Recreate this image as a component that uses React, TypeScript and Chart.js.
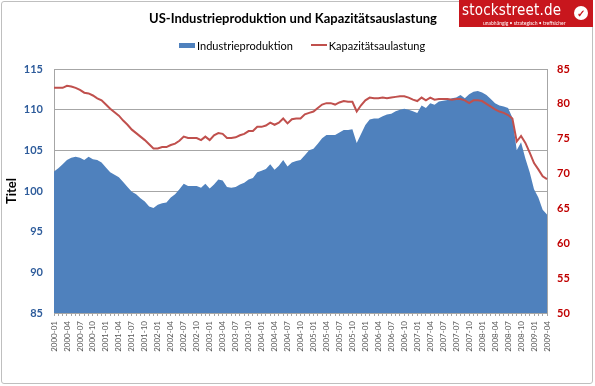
import React, { useEffect, useRef } from 'react';
import { Chart, registerables } from 'chart.js';

Chart.register(...registerables);

const tickLabels = [
  '2000-01', '2000-04', '2000-07', '2000-10',
  '2001-01', '2001-04', '2001-07', '2001-10',
  '2002-01', '2002-04', '2002-07', '2002-10',
  '2003-01', '2003-04', '2003-07', '2003-10',
  '2004-01', '2004-04', '2004-07', '2004-10',
  '2005-01', '2005-04', '2005-07', '2005-10',
  '2006-01', '2006-04', '2006-07', '2006-10',
  '2007-01', '2007-04', '2007-07', '2007-07', '2007-10',
  '2008-01', '2008-04', '2008-07', '2008-10',
  '2009-01', '2009-04',
];

const industrieproduktion = [
  102.4, 102.8, 103.3, 103.8, 104.1, 104.2, 104.1, 103.8, 104.2, 103.9,
  103.8, 103.5, 102.9, 102.3, 102.0, 101.7, 101.1, 100.5, 99.9, 99.6,
  99.1, 98.7, 98.1, 97.9, 98.3, 98.5, 98.6, 99.2, 99.6, 100.2,
  100.9, 100.6, 100.6, 100.6, 100.4, 100.9, 100.3, 100.8, 101.4, 101.3,
  100.5, 100.4, 100.5, 100.8, 101.0, 101.4, 101.6, 102.3, 102.5, 102.7,
  103.3, 102.6, 103.1, 103.8, 103.0, 103.5, 103.7, 103.8, 104.4, 105.0,
  105.2, 105.8, 106.5, 106.9, 106.9, 106.9, 107.2, 107.5, 107.5, 107.6,
  105.9, 107.0, 108.1, 108.8, 108.9, 108.9, 109.2, 109.4, 109.5, 109.8,
  110.0, 110.1, 110.0, 109.8, 109.6, 110.5, 110.2, 110.8, 110.6, 111.0,
  111.1, 111.2, 111.4, 111.5, 111.8, 111.4, 111.9, 112.2, 112.3, 112.1,
  111.8, 111.3, 110.8, 110.5, 110.4, 110.2, 109.0, 105.0, 106.0, 104.0,
  102.3, 100.2, 99.2, 97.7, 97.1,
];

const kapazitaetsauslastung = [
  82.3, 82.3, 82.3, 82.6, 82.5, 82.3, 82.0, 81.6, 81.5, 81.2,
  80.8, 80.5, 79.9, 79.3, 78.8, 78.3, 77.6, 77.0, 76.3, 75.8,
  75.3, 74.8, 74.2, 73.6, 73.6, 73.8, 73.8, 74.1, 74.3, 74.7,
  75.3, 75.1, 75.1, 75.1, 74.8, 75.3, 74.8, 75.5, 75.8, 75.7,
  75.1, 75.1, 75.2, 75.5, 75.7, 76.1, 76.1, 76.7, 76.7, 76.9,
  77.3, 77.0, 77.3, 77.9, 77.2, 77.8, 77.9, 77.9, 78.5, 78.7,
  78.9, 79.4, 79.9, 80.1, 80.1, 79.9, 80.2, 80.4, 80.3, 80.3,
  78.9, 79.8, 80.5, 80.9, 80.8, 80.8, 80.9, 80.8, 80.9, 81.0,
  81.1, 81.1, 80.9, 80.6, 80.4, 80.9, 80.5, 80.9, 80.6, 80.7,
  80.7, 80.7, 80.6, 80.7, 80.7, 80.5, 80.1, 80.5, 80.5, 80.4,
  80.0, 79.6, 79.2, 78.9, 78.7, 78.4, 77.9, 74.6, 75.4, 74.4,
  73.0, 71.5, 70.6, 69.6, 69.2,
];

const W = 595;
const H = 386;
const FONT = 'Lato, "Open Sans", sans-serif';
const BLUE = '#4F81BD';
const RED = '#C0504D';
const GRID = '#a6a6a6';

export default function App() {
  const canvasRef = useRef<HTMLCanvasElement | null>(null);

  useEffect(() => {
    const canvas = canvasRef.current;
    if (!canvas) return;
    const labels = industrieproduktion.map((_, i) => (i % 3 === 0 ? tickLabels[i / 3] : ''));
    const chart = new Chart(canvas, {
      type: 'line',
      data: {
        labels,
        datasets: [
          {
            label: 'Kapazitätsaulastung',
            data: kapazitaetsauslastung,
            yAxisID: 'y2',
            borderColor: RED,
            backgroundColor: RED,
            borderWidth: 2,
            pointRadius: 0,
            tension: 0,
            fill: false,
            order: 0,
          },
          {
            label: 'Industrieproduktion',
            data: industrieproduktion,
            yAxisID: 'y',
            borderColor: BLUE,
            backgroundColor: BLUE,
            borderWidth: 0,
            pointRadius: 0,
            tension: 0,
            fill: 'start',
            order: 1,
          },
        ],
      },
      options: {
        animation: false,
        responsive: false,
        maintainAspectRatio: false,
        layout: { padding: { top: 69, left: 0, right: 0, bottom: 0 } },
        plugins: {
          legend: { display: false },
          title: { display: false },
          tooltip: { enabled: false },
        },
        scales: {
          x: {
            type: 'category',
            offset: false,
            grid: {
              display: true,
              drawOnChartArea: false,
              drawTicks: true,
              tickLength: 3,
              color: GRID,
            },
            border: { display: true, color: GRID },
            ticks: {
              autoSkip: false,
              maxRotation: 90,
              minRotation: 90,
              padding: 5,
              color: '#595959',
              font: { family: FONT, size: 8 },
              callback: (_v: any, i: number) => (i % 3 === 0 ? tickLabels[i / 3] : ''),
            },
            afterFit: (scale: any) => {
              scale.height = 73;
            },
          },
          y: {
            position: 'left',
            min: 85,
            max: 115,
            ticks: {
              stepSize: 5,
              padding: 11,
              color: '#2E5C9B',
              font: { family: FONT, size: 11, weight: 'bold' },
            },
            grid: { color: GRID, drawTicks: false },
            border: { display: true, color: GRID },
            title: {
              display: true,
              text: 'Titel',
              color: '#000000',
              font: { family: FONT, size: 13, weight: 'bold' },
              padding: { top: 4, bottom: 0 },
            },
            afterFit: (scale: any) => {
              scale.width = 54;
            },
          },
          y2: {
            position: 'right',
            min: 50,
            max: 85,
            ticks: {
              stepSize: 5,
              padding: 10,
              color: '#C00000',
              font: { family: FONT, size: 11, weight: 'bold' },
            },
            grid: { drawOnChartArea: false, drawTicks: false },
            border: { display: true, color: GRID },
            afterFit: (scale: any) => {
              scale.width = 48;
            },
          },
        },
      },
    });
    return () => chart.destroy();
  }, []);

  return (
    <div style={{ position: 'fixed', left: 0, top: 0, width: W, height: H, background: '#ffffff', fontFamily: FONT }}>
      <canvas ref={canvasRef} width={W} height={H} style={{ position: 'absolute', left: 0, top: 0, width: W, height: H }} />
      <div style={{ position: 'absolute', left: 1, top: 1, width: 590, height: 381, border: '1px solid #bfbfbf', borderRadius: 3, pointerEvents: 'none' }} />
      <div style={{ position: 'absolute', left: 0, top: 10, width: 586, textAlign: 'center', fontWeight: 'bold', fontSize: 13, color: '#000', whiteSpace: 'nowrap' }}>
        US-Industrieproduktion und Kapazitätsauslastung
      </div>
      <div style={{ position: 'absolute', left: 179, top: 38, height: 14, display: 'flex', alignItems: 'center', fontSize: 11, color: '#000', whiteSpace: 'nowrap' }}>
        <span style={{ display: 'inline-block', width: 16, height: 5, background: BLUE, marginRight: 2 }} />
        <span>Industrieproduktion</span>
        <span style={{ display: 'inline-block', width: 16, height: 2, background: RED, marginLeft: 18, marginRight: 2 }} />
        <span>Kapazitätsaulastung</span>
      </div>
      <div style={{ position: 'absolute', left: 459, top: 0, width: 134, height: 27, background: '#C8161D', color: '#fff', overflow: 'hidden' }}>
        <div style={{ position: 'absolute', left: 3, top: 0, fontSize: 15, lineHeight: '20px', fontFamily: '"DejaVu Sans Condensed", "DejaVu Sans", sans-serif', letterSpacing: 0.2, whiteSpace: 'nowrap' }}>stockstreet.de</div>
        <div style={{ position: 'absolute', left: 115, top: 6, width: 14, height: 14, borderRadius: 7, background: '#fff', color: '#C8161D', fontSize: 10, lineHeight: '14px', textAlign: 'center', fontWeight: 'bold' }}>✓</div>
        <div style={{ position: 'absolute', left: 24, top: 20, fontSize: 5, lineHeight: '6px', whiteSpace: 'nowrap' }}>unabhängig • strategisch • treffsicher</div>
      </div>
    </div>
  );
}
